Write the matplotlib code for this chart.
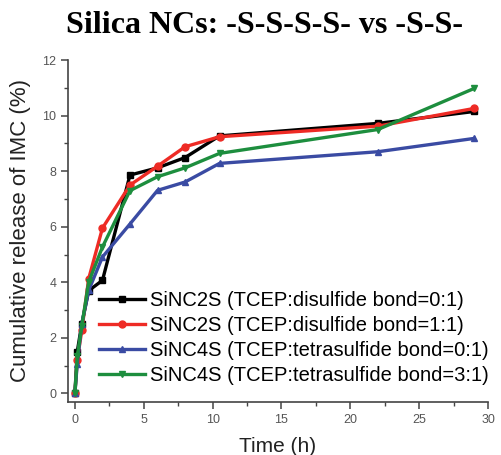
import matplotlib.pyplot as plt
from matplotlib.ticker import MultipleLocator

# release data
time_h = [0, 0.17, 0.5, 1, 2, 4, 6, 8, 10.5, 22, 29]
sinc2s_0 = [0, 1.5, 2.5, 3.7, 4.07, 7.86, 8.12, 8.49, 9.27, 9.72, 10.15]
sinc2s_1 = [0, 1.2, 2.27, 4.13, 5.95, 7.5, 8.18, 8.88, 9.24, 9.62, 10.26]
sinc4s_0 = [0, 1.07, 2.51, 3.71, 4.91, 6.1, 7.31, 7.61, 8.28, 8.7, 9.18]
sinc4s_3 = [0, 1.33, 2.43, 4.01, 5.27, 7.3, 7.8, 8.12, 8.64, 9.5, 10.98]

labels = ['SiNC2S (TCEP:disulfide bond=0:1)',
          'SiNC2S (TCEP:disulfide bond=1:1)',
          'SiNC4S (TCEP:tetrasulfide bond=0:1)',
          'SiNC4S (TCEP:tetrasulfide bond=3:1)']
series = [sinc2s_0, sinc2s_1, sinc4s_0, sinc4s_3]
colors = ['#000000', '#ee2b25', '#3a4ba3', '#1d8e3e']
markers = ['s', 'o', '^', 'v']

plt.rcParams['font.family'] = ['Liberation Sans', 'DejaVu Sans']

fig = plt.figure(figsize=(5.02, 4.55), dpi=100)
ax = fig.add_axes([0.1355, 0.117, 0.8367, 0.751])

for y, c, m, lab in zip(series, colors, markers, labels):
    ax.plot(time_h, y, color=c, marker=m, markersize=5, linewidth=2.4,
            label=lab)

ax.set_xlim(-0.5, 30)
ax.set_ylim(-0.3, 12)
ax.xaxis.set_major_locator(MultipleLocator(5))
ax.xaxis.set_minor_locator(MultipleLocator(2.5))
ax.yaxis.set_major_locator(MultipleLocator(2))
ax.yaxis.set_minor_locator(MultipleLocator(1))
ax.spines['top'].set_visible(False)
ax.spines['right'].set_visible(False)
for s in ['left', 'bottom']:
    ax.spines[s].set_color('#444444')
    ax.spines[s].set_linewidth(1.2)
ax.tick_params(which='both', direction='out', color='#444444',
               labelcolor='#555555', labelsize=9)
ax.tick_params(which='major', length=5, width=1.1)
ax.tick_params(which='minor', length=3, width=1.0)

ax.set_xlabel('Time (h)', fontsize=15, color='#222222', labelpad=8)
ax.set_ylabel('Cumulative release of IMC (%)', fontsize=16, color='#222222',
              labelpad=8)

ax.legend(loc='lower right', bbox_to_anchor=(1.022, 0.026), frameon=False,
          fontsize=14.5, handlelength=2.3, handletextpad=0.25,
          labelspacing=0.3, borderaxespad=0)

fig.text(0.527, 0.943, 'Silica NCs: -S-S-S-S- vs -S-S-', ha='center',
         va='center', fontsize=23, fontweight='bold',
         family='Liberation Serif')

plt.savefig('out.png', dpi=100)
